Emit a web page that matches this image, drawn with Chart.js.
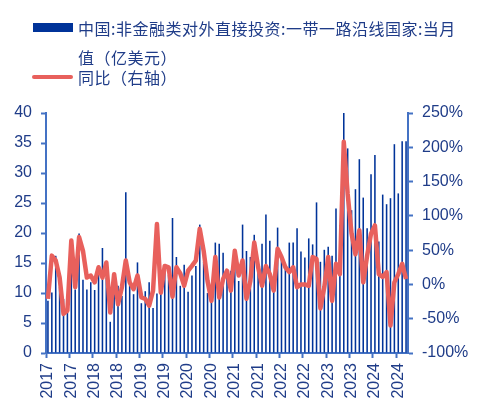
<!DOCTYPE html>
<html>
<head>
<meta charset="utf-8">
<script src="https://cdn.jsdelivr.net/npm/chart.js@4.4.1/dist/chart.umd.min.js"></script>
<style>
    body { margin: 0; background: #fff; }
    #wrap { position: relative; width: 484px; height: 413px; }
    #chart { position: absolute; left: 0; top: 0; }
    .legend-text {
        position: absolute;
        font-family: "Noto Sans CJK SC", sans-serif;
        font-size: 16px;
        line-height: 20px;
        color: #1f3c88;
        white-space: nowrap;
        letter-spacing: 0.5px;
    }
    .swatch { position: absolute; }
</style>
</head>
<body>
<div id="wrap">
    <canvas id="chart" width="484" height="413"></canvas>
    <div class="swatch" style="left:33px;top:23px;width:40px;height:9px;background:#003399;"></div>
    <div class="legend-text" style="left:78px;top:18px;">中国:非金融类对外直接投资:一带一路沿线国家:当月</div>
    <div class="legend-text" style="left:78px;top:47px;">值（亿美元）</div>
    <div class="swatch" style="left:32px;top:75px;width:41px;height:4px;border-radius:2px;background:#e8605c;"></div>
    <div class="legend-text" style="left:78px;top:67px;">同比（右轴）</div>
</div>
<script>
// monthly data, 2017-01 .. 2024-09
var startYear = 2017;
var monthCount = 93;
var months = [];
for (let i = 0; i < monthCount; i++) {
    let y = startYear + Math.floor(i / 12);
    let m = (i % 12) + 1;
    months.push(y + '-' + (m < 10 ? '0' + m : m));
}

// 当月值（亿美元）
var invest = [
    8.7, 10.1, 16.2, 11.0, 9.0, 7.0, 16.0, 10.6, 19.9, 12.2, 10.6, 11.8,
    10.5, 13.0, 17.5, 12.6, 5.2, 9.8, 11.2, 9.5, 26.8, 11.5, 9.8, 15.1,
    8.3, 10.3, 11.8, 7.5, 9.9, 10.1, 14.0, 13.0, 22.5, 16.0, 11.2, 14.7,
    10.2, 12.9, 14.5, 21.4, 15.2, 10.0, 9.0, 18.4, 18.2, 16.7, 13.7, 13.7,
    15.0, 12.0, 21.4, 17.0, 16.0, 19.7, 14.0, 18.2, 23.1, 18.7, 12.0, 20.9,
    16.0, 14.0, 18.4, 18.4, 20.8, 16.9, 15.9, 19.1, 18.1, 25.1, 15.2, 17.2,
    17.7, 16.2, 24.1, 21.3, 40.2, 34.1, 23.8, 27.3, 32.3, 25.9, 20.8, 29.8,
    33.0, 18.6, 26.4, 24.8, 25.8, 34.8, 26.6, 35.3, 35.3
];

// 同比（%）
var yoy = [
    -21, 42, 35, 10, -43, -38, 64, -4, 69, 49, 10, 13,
    3, 25, 10, 32, -41, 15, -29, -4, 35, 3, -7, 13,
    -19, -21, -31, -9, 88, -12, 27, 25, -18, 25, 16, -2,
    20, 27, 35, 81, 49, 5, -24, 40, -19, 8, 20, -9,
    49, 13, 35, -21, 5, 61, 25, -2, 27, 15, -9, 52,
    40, 25, 18, 25, -4, 0, 0, -2, 40, 37, -35, -4,
    40, -24, 30, 15, 208, 132, 74, 44, 79, 3, 42, 74,
    86, 15, 11, 18, -60, 3, 15, 30, 8
];

var leftTicks = { min: 0, max: 40, step: 5 };
var rightTicks = { min: -100, max: 250, step: 50 };

var axisColor = '#4472c4';
var textColor = '#1f3c88';
var tickFont = { family: 'Liberation Sans, Arial, sans-serif', size: 16 };

var ctx = document.getElementById('chart');
var chart = new Chart(ctx, {
    data: {
        labels: months,
        datasets: [{
            type: 'line',
            label: '同比（右轴）',
            data: yoy,
            yAxisID: 'y1',
            borderColor: '#e8605c',
            borderWidth: 4.5,
            pointRadius: 0,
            tension: 0,
            borderJoinStyle: 'round',
            order: 1
        }, {
            type: 'bar',
            label: '中国:非金融类对外直接投资:一带一路沿线国家:当月值（亿美元）',
            data: invest,
            yAxisID: 'y',
            backgroundColor: '#003399',
            barPercentage: 0.4,
            categoryPercentage: 1.0,
            order: 2
        }]
    },
    options: {
        responsive: false,
        animation: false,
        layout: { padding: { top: 113 } },
        plugins: {
            legend: { display: false },
            tooltip: { enabled: false }
        },
        scales: {
            x: {
                type: 'category',
                offset: true,
                grid: {
                    offset: true,
                    drawOnChartArea: false,
                    tickLength: 5,
                    tickWidth: 2,
                    tickColor: function (c) {
                        return c.index % 6 === 0 ? axisColor : 'rgba(0,0,0,0)';
                    }
                },
                border: { color: axisColor, width: 2 },
                ticks: {
                    autoSkip: false,
                    minRotation: 90,
                    maxRotation: 90,
                    padding: 5,
                    color: textColor,
                    font: tickFont,
                    callback: function (v, i) {
                        return i % 6 === 0 ? months[i].slice(0, 4) : '';
                    }
                },
                afterFit: function (s) { s.height = 60; }
            },
            y: {
                position: 'left',
                min: leftTicks.min,
                max: leftTicks.max,
                grid: { drawOnChartArea: false, tickLength: 5, tickWidth: 2, tickColor: axisColor },
                border: { color: axisColor, width: 2 },
                ticks: { stepSize: leftTicks.step, padding: 9, color: textColor, font: tickFont },
                afterFit: function (s) { s.width = 46; }
            },
            y1: {
                position: 'right',
                min: rightTicks.min,
                max: rightTicks.max,
                grid: { drawOnChartArea: false, tickLength: 5, tickWidth: 2, tickColor: axisColor },
                border: { color: axisColor, width: 2 },
                ticks: {
                    stepSize: rightTicks.step,
                    padding: 9,
                    color: textColor,
                    font: tickFont,
                    callback: function (v) { return v + '%'; }
                },
                afterFit: function (s) { s.width = 76; }
            }
        }
    }
});
</script>
</body>
</html>
